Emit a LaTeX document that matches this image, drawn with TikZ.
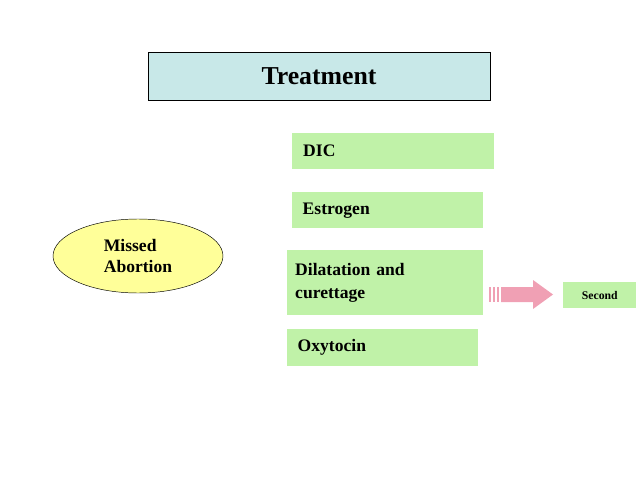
\documentclass[tikz,border=0pt]{standalone}
\usepackage{fontspec}
\setmainfont{Liberation Serif}
\usetikzlibrary{shapes.geometric,positioning}
\definecolor{boxgreen}{RGB}{192,242,168}
\definecolor{titlecyan}{RGB}{200,232,232}
\definecolor{ovalyellow}{RGB}{255,255,153}
\definecolor{arrowpink}{RGB}{240,160,180}
\tikzset{
  greenbox/.style={fill=boxgreen, anchor=north west, align=left, inner sep=6pt,
    font=\bfseries\fontsize{15}{20}\selectfont},
}
\begin{document}
\begin{tikzpicture}[x=0.03cm,y=-0.03cm]
\useasboundingbox (0,0) rectangle (638,479);
\node[draw, fill=titlecyan, minimum width=342*0.03cm, minimum height=48*0.03cm,
  font=\bfseries\fontsize{22}{26}\selectfont] (title) at (319,76) {Treatment};
\node[greenbox, minimum width=202*0.03cm, minimum height=36*0.03cm, text width=180*0.03cm] (dic) at (292,133) {DIC};
\node[greenbox, minimum width=191*0.03cm, minimum height=36*0.03cm, text width=170*0.03cm] (estrogen) at (292,192) {Estrogen};
\node[greenbox, minimum width=196*0.03cm, minimum height=65*0.03cm, text width=180*0.03cm] (dc) at (287,250) {Dilatation and\\curettage};
\node[greenbox, minimum width=191*0.03cm, minimum height=37*0.03cm, text width=170*0.03cm] (oxytocin) at (287,329) {Oxytocin};
\node[ellipse, draw, fill=ovalyellow, minimum width=170*0.03cm, minimum height=74*0.03cm,
  font=\bfseries\fontsize{15}{18}\selectfont, align=left] (missed) at (138,256) {Missed\\Abortion};
\node[greenbox, anchor=west, minimum width=73*0.03cm, minimum height=26*0.03cm, inner sep=4pt,
  font=\bfseries\fontsize{10}{12}\selectfont] (second) at (563,295) {Second};
% striped arrow
\foreach \x in {489,493,497}
  \fill[arrowpink] (\x,287) rectangle ++(2,15);
\fill[arrowpink] (501,287) -- (533,287) -- (533,280) -- (553,294.5) -- (533,309) -- (533,302) -- (501,302) -- cycle;
\end{tikzpicture}
\end{document}
